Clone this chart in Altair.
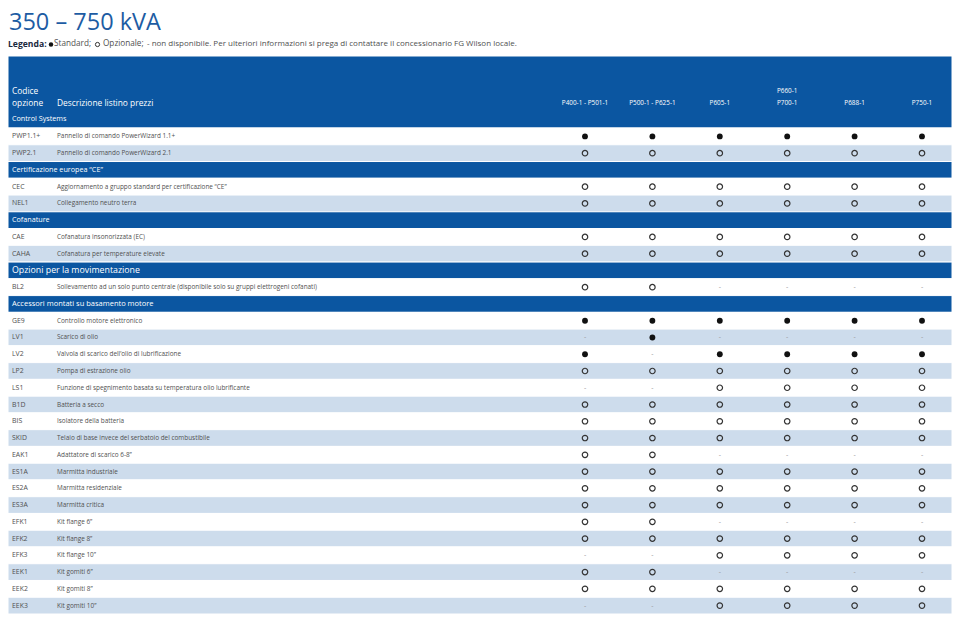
import altair as alt
import pandas as pd

# ---------------- data ----------------
TITLE = "350 – 750 kVA"
LEGEND_LABEL = "Legenda:"
LEGEND_STANDARD = "Standard;"
LEGEND_OPTIONAL = "Opzionale;"
LEGEND_REST = "- non disponibile. Per ulteriori informazioni si prega di contattare il concessionario FG Wilson locale."

HEADER_CODE = ["Codice", "opzione"]
HEADER_DESC = "Descrizione listino prezzi"

models = ["P400-1 - P501-1", "P500-1 - P625-1", "P605-1", "P660-1 / P700-1", "P688-1", "P750-1"]
model_top_line = ["", "", "", "P660-1", "", ""]
model_bottom_line = ["P400-1 - P501-1", "P500-1 - P625-1", "P605-1", "P700-1", "P688-1", "P750-1"]

section_titles = [
    "Control Systems",
    "Certificazione europea “CE”",
    "Cofanature",
    "Opzioni per la movimentazione",
    "Accessori montati su basamento motore",
]

codes_control = ["PWP1.1+", "PWP2.1"]
desc_control = ["Pannello di comando PowerWizard 1.1+", "Pannello di comando PowerWizard 2.1"]
avail_control = ["SSSSSS", "OOOOOO"]

codes_ce = ["CEC", "NEL1"]
desc_ce = ["Aggiornamento a gruppo standard per certificazione “CE”", "Collegamento neutro terra"]
avail_ce = ["OOOOOO", "OOOOOO"]

codes_cof = ["CAE", "CAHA"]
desc_cof = ["Cofanatura insonorizzata (EC)", "Cofanatura per temperature elevate"]
avail_cof = ["OOOOOO", "OOOOOO"]

codes_mov = ["BL2"]
desc_mov = ["Sollevamento ad un solo punto centrale (disponibile solo su gruppi elettrogeni cofanati)"]
avail_mov = ["OO----"]

codes_acc = ["GE9", "LV1", "LV2", "LP2", "LS1", "B1D", "BIS", "SKID", "EAK1",
             "ES1A", "ES2A", "ES3A", "EFK1", "EFK2", "EFK3", "EEK1", "EEK2", "EEK3"]
desc_acc = [
    "Controllo motore elettronico",
    "Scarico di olio",
    "Valvola di scarico dell’olio di lubrificazione",
    "Pompa di estrazione olio",
    "Funzione di spegnimento basata su temperatura olio lubrificante",
    "Batteria a secco",
    "Isolatore della batteria",
    "Telaio di base invece del serbatoio del combustibile",
    "Adattatore di scarico 6-8”",
    "Marmitta industriale",
    "Marmitta residenziale",
    "Marmitta critica",
    "Kit flange 6”",
    "Kit flange 8”",
    "Kit flange 10”",
    "Kit gomiti 6”",
    "Kit gomiti 8”",
    "Kit gomiti 10”",
]
avail_acc = ["SSSSSS", "-S----", "S-SSSS", "OOOOOO", "--OOOO", "OOOOOO", "OOOOOO", "OOOOOO", "OO----",
             "OOOOOO", "OOOOOO", "OOOOOO", "OO----", "OOOOOO", "--OOOO", "OO----", "OOOOOO", "--OOOO"]

sections = [
    (codes_control, desc_control, avail_control),
    (codes_ce, desc_ce, avail_ce),
    (codes_cof, desc_cof, avail_cof),
    (codes_mov, desc_mov, avail_mov),
    (codes_acc, desc_acc, avail_acc),
]

# ---------------- style / layout ----------------
FONT = "Open Sans"
DARK = "#0b56a1"
LIGHT = "#cddcec"
TEXT = "#505050"
W, H = 944, 606
HEADER_TOP_PX = 48
TABLE_TOP_PX = 120
section_font_sizes = [7.2, 7.2, 7.2, 8.8, 7.5]

# ---------------- build tables ----------------
body, cells = [], []
r = 0
for s, (codes, descs, avails) in enumerate(sections):
    if s > 0:
        body.append(dict(r0=r, r1=r + 1, rc=r + 0.5, code=section_titles[s], desc="",
                         fill=DARK, tcolor="white", fs=section_font_sizes[s]))
        r += 1
    for k, (c, d, a) in enumerate(zip(codes, descs, avails)):
        body.append(dict(r0=r, r1=r + 1, rc=r + 0.5, code=c, desc=d,
                         fill="white" if k % 2 == 0 else LIGHT, tcolor=TEXT, fs=6.9))
        for m, v in zip(models, a):
            cells.append(dict(rc=r + 0.5, model=m, v=v))
        r += 1
N_ROWS = r
pitch = (H - TABLE_TOP_PX) / N_ROWS
Y_MIN = -TABLE_TOP_PX / pitch
header_r0 = (HEADER_TOP_PX - TABLE_TOP_PX) / pitch

body_df = pd.DataFrame(body)
bg_df = pd.concat([pd.DataFrame([dict(r0=header_r0, r1=0, fill=DARK)]),
                   body_df[["r0", "r1", "fill"]]], ignore_index=True)
cells_df = pd.DataFrame(cells)
model_df = pd.DataFrame(dict(model=models, top=model_top_line, bottom=model_bottom_line))

YS = alt.Scale(domain=[Y_MIN, N_ROWS], range=[0, H], nice=False, zero=False)
XS = alt.Scale(type="point", domain=models, range=[577, 914], padding=0)

bg = alt.Chart(bg_df).mark_rect(stroke="white", strokeWidth=1).encode(
    x=alt.value(0), x2=alt.value(W),
    y=alt.Y("r0:Q", scale=YS, axis=None), y2="r1:Q",
    color=alt.Color("fill:N", scale=None),
)

code_txt = alt.Chart(body_df).mark_text(align="left", baseline="middle", font=FONT).encode(
    x=alt.value(4),
    y=alt.Y("rc:Q", scale=YS, axis=None),
    text="code:N",
    color=alt.Color("tcolor:N", scale=None),
    size=alt.Size("fs:Q", scale=None),
)

desc_txt = alt.Chart(body_df).mark_text(align="left", baseline="middle", font=FONT,
                                         fontSize=6.4, color=TEXT).encode(
    x=alt.value(49),
    y=alt.Y("rc:Q", scale=YS, axis=None),
    text="desc:N",
)

filled = alt.Chart(cells_df).transform_filter(alt.datum.v == "S").mark_point(
    shape="circle", filled=True, color="#111111", size=34, opacity=1).encode(
    x=alt.X("model:N", scale=XS, axis=None),
    y=alt.Y("rc:Q", scale=YS, axis=None),
)
opened = alt.Chart(cells_df).transform_filter(alt.datum.v == "O").mark_point(
    shape="circle", filled=False, color="#333333", size=30, strokeWidth=1.2, opacity=1).encode(
    x=alt.X("model:N", scale=XS, axis=None),
    y=alt.Y("rc:Q", scale=YS, axis=None),
)
dashes = alt.Chart(cells_df).transform_filter(alt.datum.v == "-").mark_text(
    text="-", font=FONT, fontSize=7, color="#9a9a9a", baseline="middle").encode(
    x=alt.X("model:N", scale=XS, axis=None),
    y=alt.Y("rc:Q", scale=YS, axis=None),
)

model_bot = alt.Chart(model_df).mark_text(baseline="middle", font=FONT, fontSize=6.4,
                                           color="white").encode(
    x=alt.X("model:N", scale=XS, axis=None), y=alt.value(95), text="bottom:N")
model_top = alt.Chart(model_df).mark_text(baseline="middle", font=FONT, fontSize=6.4,
                                           color="white").encode(
    x=alt.X("model:N", scale=XS, axis=None), y=alt.value(83), text="top:N")

one = pd.DataFrame({"a": [0]})


def label(text, x, y, size, color, weight="normal", baseline="middle"):
    return alt.Chart(one).mark_text(text=text, align="left", baseline=baseline, font=FONT,
                                    fontSize=size, color=color, fontWeight=weight).encode(
        x=alt.value(x), y=alt.value(y))


head = [
    label(HEADER_CODE[0], 4, 83, 8.4, "white"),
    label(HEADER_CODE[1], 4, 95, 8.4, "white"),
    label(HEADER_DESC, 49, 95, 8.4, "white"),
    label(section_titles[0], 4, 111, 7.2, "white"),
]
title = label(TITLE, 1, 3, 23.5, "#1d5ca3", baseline="top")
legend = [
    label(LEGEND_LABEL, 0, 36, 8.6, "#1a2a40", weight="bold"),
    label(LEGEND_STANDARD, 46, 36, 8.2, TEXT),
    label(LEGEND_OPTIONAL, 95, 36, 8.2, TEXT),
    label(LEGEND_REST, 139, 36, 8.0, TEXT),
]
leg_filled = alt.Chart(one).mark_point(shape="circle", filled=True, color="#111111", size=20,
                                       opacity=1).encode(x=alt.value(43), y=alt.value(36.5))
leg_open = alt.Chart(one).mark_point(shape="circle", filled=False, color="#333333", size=18,
                                     strokeWidth=1, opacity=1).encode(x=alt.value(89.5), y=alt.value(36.5))

chart = alt.layer(
    bg, code_txt, desc_txt, filled, opened, dashes, model_bot, model_top,
    *head, title, *legend, leg_filled, leg_open,
).properties(
    width=W, height=H, padding=0, autosize=alt.AutoSizeParams(type="none"),
).configure_view(stroke=None)

chart.save("out.html", embed_options={"renderer": "svg", "actions": False})
